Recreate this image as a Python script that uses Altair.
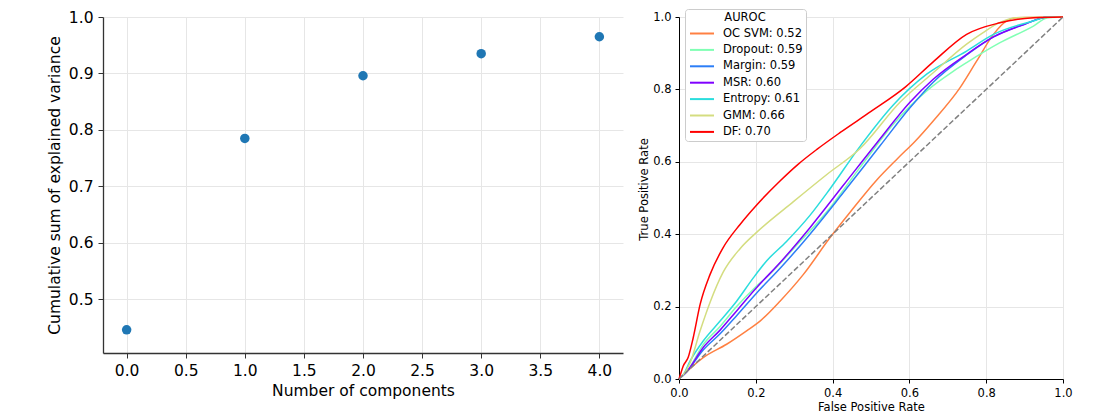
import altair as alt
import pandas as pd

# ---------------- Left panel: PCA cumulative explained variance ----------------
components = [0, 1, 2, 3, 4]
cum_var = [0.446, 0.785, 0.896, 0.935, 0.965]
left_x_ticks = [0.0, 0.5, 1.0, 1.5, 2.0, 2.5, 3.0, 3.5, 4.0]
left_y_ticks = [0.5, 0.6, 0.7, 0.8, 0.9, 1.0]

# ---------------- Right panel: ROC curves ----------------
methods = ["OC SVM: 0.52", "Dropout: 0.59", "Margin: 0.59", "MSR: 0.60",
           "Entropy: 0.61", "GMM: 0.66", "DF: 0.70"]
colors = ["#ff8042", "#80ffb4", "#2c7ef7", "#8000ff", "#2adddd", "#d4dd80", "#ff0000"]

ocsvm_fpr = [0.0, 0.063, 0.124, 0.176, 0.211, 0.263, 0.324, 0.393, 0.445, 0.515, 0.57, 0.615, 0.662, 0.732, 0.775, 0.819, 0.853, 0.879, 1.0]
ocsvm_tpr = [0.0, 0.059, 0.096, 0.133, 0.16, 0.215, 0.289, 0.39, 0.46, 0.55, 0.61, 0.657, 0.713, 0.805, 0.878, 0.952, 0.989, 0.998, 1.0]

dropout_fpr = [0.0, 0.02, 0.063, 0.107, 0.15, 0.2, 0.237, 0.298, 0.385, 0.471, 0.558, 0.645, 0.714, 0.749, 0.836, 0.923, 0.96, 1.0]
dropout_tpr = [0.0, 0.02, 0.095, 0.145, 0.2, 0.255, 0.29, 0.36, 0.462, 0.584, 0.704, 0.796, 0.85, 0.874, 0.929, 0.975, 0.998, 1.0]

margin_fpr = [0.0, 0.02, 0.063, 0.107, 0.15, 0.2, 0.267, 0.341, 0.428, 0.524, 0.602, 0.662, 0.749, 0.819, 0.9, 0.96, 1.0]
margin_tpr = [0.0, 0.02, 0.08, 0.125, 0.175, 0.235, 0.31, 0.4, 0.515, 0.645, 0.75, 0.82, 0.895, 0.945, 0.98, 1.0, 1.0]

msr_fpr = [0.0, 0.02, 0.063, 0.107, 0.15, 0.2, 0.267, 0.341, 0.428, 0.515, 0.602, 0.662, 0.749, 0.819, 0.9, 0.96, 1.0]
msr_tpr = [0.0, 0.02, 0.087, 0.135, 0.188, 0.25, 0.326, 0.418, 0.535, 0.652, 0.765, 0.828, 0.897, 0.945, 0.98, 1.0, 1.0]

entropy_fpr = [0.0, 0.01, 0.029, 0.063, 0.107, 0.15, 0.194, 0.228, 0.28, 0.341, 0.393, 0.471, 0.558, 0.645, 0.749, 0.819, 0.922, 0.96, 1.0]
entropy_tpr = [0.0, 0.01, 0.05, 0.105, 0.16, 0.215, 0.28, 0.326, 0.38, 0.452, 0.525, 0.642, 0.757, 0.842, 0.906, 0.952, 0.989, 1.0, 1.0]

gmm_fpr = [0.0, 0.01, 0.029, 0.055, 0.081, 0.115, 0.159, 0.202, 0.298, 0.385, 0.471, 0.576, 0.662, 0.749, 0.792, 0.836, 0.879, 1.0]
gmm_tpr = [0.0, 0.01, 0.045, 0.133, 0.212, 0.295, 0.36, 0.405, 0.49, 0.565, 0.636, 0.765, 0.846, 0.925, 0.957, 0.985, 0.998, 1.0]

df_fpr = [0.0, 0.003, 0.011, 0.024, 0.037, 0.055, 0.081, 0.115, 0.159, 0.2, 0.263, 0.31, 0.36, 0.42, 0.5, 0.59, 0.662, 0.749, 0.836, 0.923, 1.0]
df_tpr = [0.0, 0.01, 0.036, 0.06, 0.114, 0.206, 0.289, 0.363, 0.427, 0.478, 0.547, 0.593, 0.635, 0.681, 0.739, 0.807, 0.876, 0.952, 0.984, 0.998, 1.0]

chance_fpr = [0.0, 1.0]
chance_tpr = [0.0, 1.0]
right_ticks = [0.0, 0.2, 0.4, 0.6, 0.8, 1.0]

FONT = "DejaVu Sans"

# ---------------- Build tables ----------------
pca_df = pd.DataFrame({"component": components, "cumvar": cum_var})

curves = [
    (methods[0], ocsvm_fpr, ocsvm_tpr),
    (methods[1], dropout_fpr, dropout_tpr),
    (methods[2], margin_fpr, margin_tpr),
    (methods[3], msr_fpr, msr_tpr),
    (methods[4], entropy_fpr, entropy_tpr),
    (methods[5], gmm_fpr, gmm_tpr),
    (methods[6], df_fpr, df_tpr),
]
rows = []
for name, fx, fy in curves:
    for i, (a, b) in enumerate(zip(fx, fy)):
        rows.append({"method": name, "fpr": a, "tpr": b, "idx": i})
roc_df = pd.DataFrame(rows)
diag_df = pd.DataFrame({"fpr": chance_fpr, "tpr": chance_tpr})

# ---------------- Left chart ----------------
left_axis_common = dict(
    labelFont=FONT, titleFont=FONT, labelFontSize=15.5, titleFontSize=15.5,
    titleFontWeight="normal", labelColor="#000000", titleColor="#000000",
    tickColor="#333333", tickSize=5, tickWidth=1, labelPadding=5,
    domainColor="#333333", domainWidth=1.3, gridColor="#e6e6e6", gridWidth=1,
    format=".1f", labelFlush=False, labelOverlap=False,
)

left = alt.Chart(pca_df).mark_circle(size=90, color="#1f77b4", opacity=1).encode(
    x=alt.X("component:Q",
            scale=alt.Scale(domain=[-0.2, 4.2], nice=False, zero=False),
            axis=alt.Axis(title="Number of components", values=left_x_ticks,
                          titlePadding=5, **left_axis_common)),
    y=alt.Y("cumvar:Q",
            scale=alt.Scale(domain=[0.405, 1.0], nice=False, zero=False),
            axis=alt.Axis(title="Cumulative sum of explained variance", values=left_y_ticks,
                          titlePadding=6, **left_axis_common)),
).properties(width=520, height=336)

# ---------------- Right chart ----------------
right_axis_common = dict(
    labelFont=FONT, titleFont=FONT, labelFontSize=11.5, titleFontSize=11.5,
    titleFontWeight="normal", labelColor="#000000", titleColor="#000000",
    tickColor="#000000", tickSize=4, tickWidth=1, labelPadding=4,
    domainColor="#000000", domainWidth=1, gridColor="#e6e6e6", gridWidth=1,
    format=".1f", labelFlush=False, labelOverlap=False,
)

roc_lines = alt.Chart(roc_df).mark_line(strokeWidth=1.5, interpolate="monotone").encode(
    x=alt.X("fpr:Q", scale=alt.Scale(domain=[0, 1], nice=False),
            axis=alt.Axis(title="False Positive Rate", values=right_ticks,
                          titlePadding=3, **right_axis_common)),
    y=alt.Y("tpr:Q", scale=alt.Scale(domain=[0, 1], nice=False),
            axis=alt.Axis(title="True Positive Rate", values=right_ticks,
                          titlePadding=3.5, titleY=172, **right_axis_common)),
    color=alt.Color("method:N",
                    scale=alt.Scale(domain=methods, range=colors),
                    legend=alt.Legend(
                        title="AUROC", orient="none", legendX=6, legendY=-8,
                        fillColor="white", strokeColor="#cccccc", cornerRadius=3,
                        padding=3, symbolType="M-2,0H2", symbolSize=144,
                        symbolStrokeWidth=2, symbolOffset=7, labelOffset=14,
                        labelFont=FONT, labelFontSize=11.5, labelColor="#000000",
                        titleFont=FONT, titleFontSize=11.5, titleFontWeight="normal",
                        titleColor="#000000", titleAnchor="middle", titlePadding=3,
                        rowPadding=3.4)),
    order="idx:Q",
)

diag = alt.Chart(diag_df).mark_line(color="#808080", strokeWidth=1.5,
                                     strokeDash=[5.5, 2.4]).encode(
    x="fpr:Q", y="tpr:Q")

right = alt.layer(roc_lines, diag).properties(width=384, height=362)

chart = alt.hconcat(left, right, spacing=15).resolve_scale(
    color="independent").resolve_legend(color="independent").properties(
    padding={"left": 39, "top": 0, "right": 5, "bottom": 0}
).configure_view(stroke=None)

chart.save("out.html", embed_options={"renderer": "svg", "actions": False})
